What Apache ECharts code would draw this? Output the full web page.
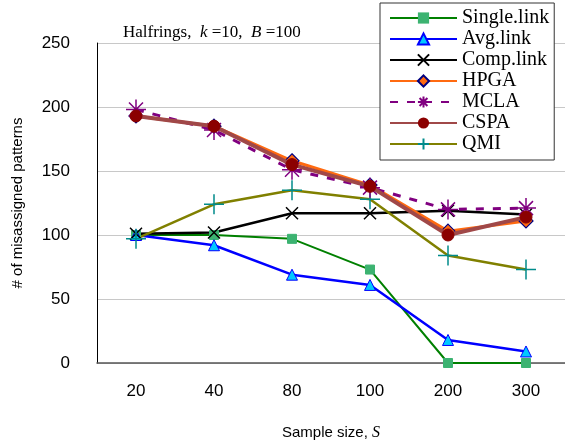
<!DOCTYPE html>
<html>
<head>
<meta charset="utf-8">
<script src="https://cdn.jsdelivr.net/npm/echarts@6/dist/echarts.min.js"></script>
<style>
  html, body { margin: 0; padding: 0; background: #fff; }
  #chart { width: 565px; height: 446px; }
</style>
</head>
<body>
<div id="chart"></div>
<script>
const sampleSizes = ["20", "40", "80", "100", "200", "300"];
const yTicks = [0, 50, 100, 150, 200, 250];

const singleLink = [100, 100, 97, 73, 0, 0];
const avgLink = [100, 92, 69, 61, 18, 9];
const compLink = [101, 102, 117, 117, 119, 116];
const hpga = [193, 185, 158, 139, 103, 111];
const mcla = [198, 182, 151, 137, 120, 121];
const cspa = [193, 185, 155, 138, 100, 114];
const qmi = [97, 124, 135, 128, 84, 73];

const chart = echarts.init(document.getElementById("chart"));

const serif = "'Liberation Serif', 'DejaVu Serif', serif";
const sans = "'Liberation Sans', Arial, sans-serif";

const xPath = "path://M0,0L10,10M10,0L0,10";
const plusPath = "path://M5,0L5,10M0,5L10,5";
const starPath = "path://M5,0L5,10M0,5L10,5M1.5,1.5L8.5,8.5M8.5,1.5L1.5,8.5";

function lineSeries(name, data, opts) {
  return Object.assign(
    {
      name,
      type: "line",
      data,
      symbolSize: 10,
      animation: false,
      z: 2,
    },
    opts,
  );
}

chart.setOption({
  animation: false,
  title: {
    text: "Halfrings,  {i|k} =10,  {i|B} =100",
    left: 118,
    top: 19,
    textStyle: {
      fontFamily: serif,
      fontSize: 17,
      fontWeight: "normal",
      color: "#000",
      rich: { i: { fontFamily: serif, fontSize: 17, fontStyle: "italic", color: "#000" } },
    },
  },
  legend: {
    orient: "vertical",
    left: 380,
    top: 3,
    padding: [5, 5, 6, 9],
    itemWidth: 67,
    itemHeight: 14,
    itemGap: 1,
    borderColor: "#333",
    borderWidth: 1,
    backgroundColor: "#fff",
    textStyle: { fontFamily: serif, fontSize: 20, color: "#000" },
    data: ["Single.link", "Avg.link", "Comp.link", "HPGA", "MCLA", "CSPA", "QMI"],
  },
  grid: { left: 97, right: -6, top: 43, bottom: 82 },
  xAxis: {
    type: "category",
    data: sampleSizes,
    boundaryGap: true,
    name: "Sample size, {i|S}",
    nameLocation: "middle",
    nameGap: 62,
    nameTextStyle: {
      fontFamily: sans,
      fontSize: 15,
      color: "#000",
      rich: { i: { fontFamily: serif, fontSize: 16, fontStyle: "italic", color: "#000" } },
    },
    axisLine: { lineStyle: { color: "#555", width: 1.5 } },
    axisTick: { inside: true, length: 5, lineStyle: { color: "#555" } },
    axisLabel: { fontFamily: sans, fontSize: 17, color: "#000", margin: 20 },
  },
  yAxis: {
    type: "value",
    min: 0,
    max: 250,
    interval: 50,
    name: "# of misassigned patterns",
    nameLocation: "middle",
    nameGap: 72,
    nameTextStyle: { fontFamily: sans, fontSize: 15, color: "#000" },
    axisLine: { show: true, lineStyle: { color: "#000", width: 1 } },
    axisTick: { show: false },
    axisLabel: {
      fontFamily: sans,
      fontSize: 17,
      color: "#000",
      margin: 27,
      formatter: (v) => (yTicks.includes(v) ? String(v) : ""),
    },
    splitLine: { lineStyle: { color: "#c8c8c8", width: 1 } },
  },
  series: [
    lineSeries("Single.link", singleLink, {
      symbol: "rect",
      symbolSize: 9,
      lineStyle: { color: "#008000", width: 2 },
      itemStyle: { color: "#3cb371", borderColor: "#3cb371" },
    }),
    lineSeries("Avg.link", avgLink, {
      symbol: "triangle",
      symbolSize: 11,
      lineStyle: { color: "#0000ff", width: 2.5 },
      itemStyle: { color: "#00c8ff", borderColor: "#0000ff", borderWidth: 1 },
    }),
    lineSeries("Comp.link", compLink, {
      symbol: xPath,
      symbolSize: 12,
      lineStyle: { color: "#000", width: 2.5 },
      itemStyle: { color: "#000", borderColor: "#000", borderWidth: 1.5 },
    }),
    lineSeries("HPGA", hpga, {
      symbol: "diamond",
      symbolSize: 14,
      lineStyle: { color: "#ff6a10", width: 3 },
      itemStyle: { color: "#ff6a10", borderColor: "#000080", borderWidth: 1.2 },
    }),
    lineSeries("MCLA", mcla, {
      symbol: starPath,
      symbolSize: 20,
      lineStyle: { color: "#800080", width: 3, type: [8, 9] },
      itemStyle: { color: "#800080", borderColor: "#800080", borderWidth: 1.5 },
      z: 3,
    }),
    lineSeries("CSPA", cspa, {
      symbol: "circle",
      symbolSize: 12,
      lineStyle: { color: "#a04848", width: 4 },
      itemStyle: { color: "#8b0000", borderColor: "#8b0000" },
      z: 4,
    }),
    lineSeries("QMI", qmi, {
      symbol: plusPath,
      symbolSize: 20,
      lineStyle: { color: "#808000", width: 2.5 },
      itemStyle: { color: "#008b8b", borderColor: "#008b8b", borderWidth: 1.5 },
    }),
  ],
});

window.addEventListener("resize", () => chart.resize());
</script>
</body>
</html>
